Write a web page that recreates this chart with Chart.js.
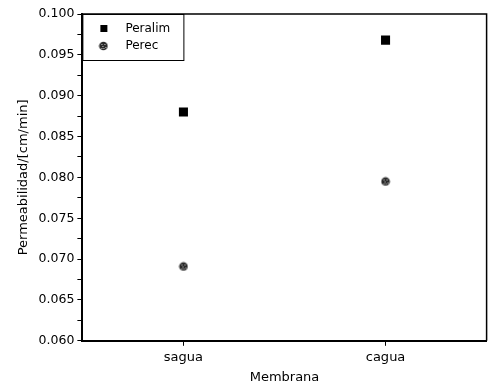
<!DOCTYPE html>
<html lang="es">
<head>
  <meta charset="UTF-8">
  <title>Permeabilidad por membrana</title>
  <script src="https://cdn.jsdelivr.net/npm/chart.js"></script>
  <style>
    html, body { margin: 0; padding: 0; background: #fff; overflow: hidden; }
    #wrap { width: 490px; height: 385px; overflow: hidden; }
  </style>
</head>
<body>
  <div id="wrap"><canvas id="grafico" width="493" height="385"></canvas></div>
  <script>
    const membranas = ['sagua', 'cagua'];
    const peralim = [0.0880, 0.0968];
    const perec = [0.0691, 0.0795];

    const fuente = '"DejaVu Sans", sans-serif';

    // marcador rayado para Perec
    function marcaRayada() {
      const c = document.createElement('canvas');
      c.width = 10; c.height = 10;
      const g = c.getContext('2d');
      g.beginPath();
      g.arc(5, 5, 4.3, 0, Math.PI * 2);
      g.fillStyle = '#2a2a2a';
      g.fill();
      g.fillStyle = '#d0d0d0';
      [[3, 3], [6, 3], [4, 5], [7, 6], [3, 7], [5, 7]].forEach(p => g.fillRect(p[0], p[1], 1, 1));
      return c;
    }
    const marcaPerec = marcaRayada();

    // marco y leyenda dentro del area
    const marco = {
      id: 'marco',
      afterDraw(chart) {
        const a = chart.chartArea;
        const ctx = chart.ctx;
        ctx.save();
        ctx.strokeStyle = '#000';
        ctx.lineWidth = 1.5;
        ctx.beginPath();
        ctx.moveTo(a.left, a.top);
        ctx.lineTo(a.right, a.top);
        ctx.lineTo(a.right, a.bottom);
        ctx.stroke();

        // leyenda
        ctx.lineWidth = 1;
        ctx.strokeRect(a.left + 0.5, a.top + 0.5, 101, 46);
        ctx.fillStyle = '#000';
        ctx.fillRect(a.left + 18, a.top + 11, 7, 7);
        ctx.drawImage(marcaPerec, a.left + 16, a.top + 27, 10, 10);
        ctx.font = '12px ' + fuente;
        ctx.textBaseline = 'middle';
        ctx.fillText('Peralim', a.left + 43, a.top + 15);
        ctx.fillText('Perec', a.left + 43, a.top + 32);
        ctx.restore();
      }
    };

    new Chart(document.getElementById('grafico'), {
      type: 'line',
      data: {
        labels: membranas,
        datasets: [
          {
            label: 'Peralim',
            data: peralim,
            showLine: false,
            pointStyle: 'rect',
            pointRadius: 6.4,
            pointHoverRadius: 6.4,
            backgroundColor: '#000',
            borderColor: '#000',
            borderWidth: 0
          },
          {
            label: 'Perec',
            data: perec,
            showLine: false,
            pointStyle: marcaPerec,
            pointRadius: 5,
            backgroundColor: '#333',
            borderColor: '#000'
          }
        ]
      },
      options: {
        responsive: false,
        animation: false,
        layout: { padding: { top: 14, right: 0, left: 12, bottom: 0 } },
        plugins: {
          legend: { display: false },
          tooltip: { enabled: false }
        },
        scales: {
          x: {
            offset: true,
            border: { color: '#000', width: 2 },
            grid: { display: true, drawOnChartArea: false, offset: false, tickLength: 5, color: '#000' },
            ticks: { color: '#000', font: { family: fuente, size: 13 }, padding: 4 },
            title: { display: true, text: 'Membrana', color: '#000', font: { family: fuente, size: 13 }, padding: { top: 0, bottom: 0 } }
          },
          y: {
            min: 0.060,
            max: 0.100,
            border: { color: '#000', width: 2 },
            grid: { drawOnChartArea: false, tickLength: 5, color: '#000' },
            ticks: {
              stepSize: 0.0025,
              autoSkip: false,
              color: '#000',
              font: { family: fuente, size: 12.5 },
              padding: 3,
              callback: function (v) {
                const k = Math.round(v / 0.0025);
                return k % 2 === 0 ? v.toFixed(3) : '';
              }
            },
            title: { display: true, text: 'Permeabilidad/[cm/min]', color: '#000', font: { family: fuente, size: 13 }, padding: { bottom: 4 } }
          }
        }
      },
      plugins: [marco]
    });
  </script>
</body>
</html>
